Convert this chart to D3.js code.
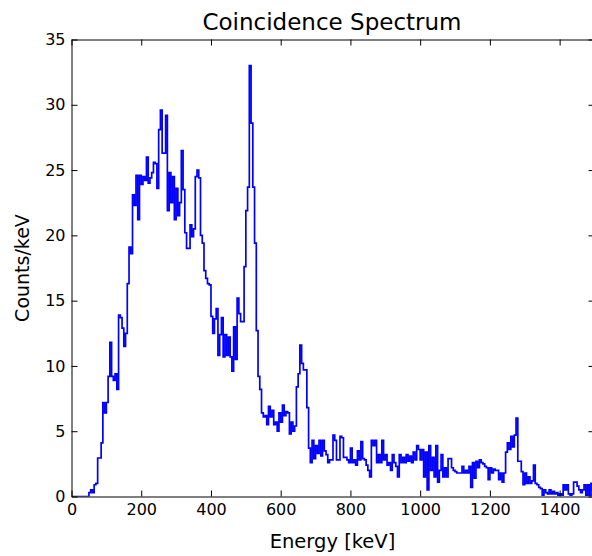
<!DOCTYPE html>
<html><head><meta charset="utf-8">
<script src="https://cdn.jsdelivr.net/npm/d3@7"></script>
<style>
body{margin:0;background:#fff}
svg{display:block}
text{font-family:"DejaVu Sans",sans-serif;fill:#000}
</style>
</head><body>
<svg id="chart" width="592" height="556"></svg>
<script>
// ---- data ----
const binWidth = 5; // keV per bin
const energyMax = 1500;
// Counts/keV for bins starting 0,5,10,... keV
const countsLow = [ // 0–495 keV
  0,0,0,0,0,0,0,0,0,0,
  0.3,0.5,0.3,0.9,1.0,2.95,2.95,4.1,7.2,6.4,
  7.2,9.2,11.8,9.2,8.9,9.4,8.2,13.9,13.7,12.9,
  11.5,12.5,16.3,19.1,18.6,23.1,22.3,24.6,21.2,24.6,
  23.9,24.5,24.2,26.0,24.0,24.4,24.8,25.6,25.5,23.6,
  28.1,29.6,26.3,26.3,29.2,21.9,24.8,22.5,24.5,21.2,
  23.6,21.5,22.5,26.5,23.5,20.2,19.0,19.0,20.8,19.9,
  20.5,24.5,25.0,24.4,20.0,19.4,17.3,16.7,16.3,16.2,
  13.8,12.5,13.6,14.4,10.8,12.4,13.7,10.7,12.4,10.8,
  12.2,10.7,9.6,13.0,10.5,15.2,14.0,13.4,13.4,17.6
];
const countsMid = [ // 500–995 keV
  21.9,23.7,33.0,28.6,23.7,19.4,12.7,9.2,8.2,6.4,
  6.1,6.2,5.5,6.9,6.1,6.6,5.5,5.7,5.0,6.4,
  5.7,7.0,6.2,6.5,6.4,4.8,5.7,5.0,5.4,8.4,
  9.4,11.6,10.2,9.7,9.7,6.8,3.7,2.6,4.3,2.9,
  3.9,3.3,4.3,3.1,4.3,3.5,3.2,2.6,2.8,2.8,
  4.7,4.3,2.8,2.8,4.6,4.5,3.0,3.0,2.8,2.6,
  3.7,2.6,2.8,2.4,3.5,2.8,4.2,2.9,2.8,2.4,
  2.0,1.5,4.3,3.9,4.3,2.6,3.2,2.6,4.3,2.8,
  3.2,2.4,2.6,2.0,3.2,2.6,2.3,1.5,3.2,2.6,
  3.0,2.6,3.2,2.7,3.1,2.6,3.4,2.8,3.9,3.6
];
const countsHigh = [ // 1000–1495 keV
  2.8,3.6,1.5,3.4,0.5,3.9,2.0,3.0,1.5,3.9,
  1.1,2.0,3.2,1.5,2.2,1.5,2.9,2.9,2.2,2.0,
  1.9,1.8,1.8,1.8,2.3,1.8,2.0,1.8,2.3,0.7,
  2.6,1.4,2.7,2.2,2.8,2.6,2.5,2.3,2.2,1.3,
  2.2,1.8,2.1,2.0,2.0,1.3,1.8,1.1,1.8,3.4,
  4.1,3.6,4.6,3.8,4.7,6.0,2.7,2.7,1.9,0.9,
  1.8,1.0,1.5,1.0,1.2,2.4,1.0,0.9,0.7,0.6,
  0.1,0.5,0.3,0.2,0.5,0.2,0.4,0.2,0.3,0.1,
  0.2,0.1,0.9,0.5,0.9,0.2,0.1,0.2,1.1,1.1,
  0.8,0.5,0.3,0.5,0.9,0.1,0.9,0.1,1.0,0.5
];
const xTickValues = [0,200,400,600,800,1000,1200,1400];
const yTickValues = [0,5,10,15,20,25,30,35];
const titleText = "Coincidence Spectrum";
const xLabelText = "Energy [keV]";
const yLabelText = "Counts/keV";

// ---- chart ----
const counts = countsLow.concat(countsMid, countsHigh);
const m = {left:71.5, right:594.5, top:39.5, bottom:496.5};
const svg = d3.select("#chart");
const x = d3.scaleLinear().domain([0, energyMax]).range([m.left, m.right]);
const y = d3.scaleLinear().domain([0, 35]).range([m.bottom, m.top]);

const pts = [[0,0]].concat(counts.map((v,i)=>[i*binWidth, v]));
pts.push([energyMax, counts[counts.length-1]]);
pts.push([energyMax, 0]);

svg.append("defs").append("clipPath").attr("id","clip")
  .append("rect").attr("x",m.left).attr("y",m.top-2).attr("width",m.right-m.left).attr("height",m.bottom-m.top+2);

svg.append("path")
  .datum(pts)
  .attr("clip-path","url(#clip)")
  .attr("fill","none")
  .attr("stroke","#0000ff")
  .attr("stroke-width",1.7)
  .attr("stroke-linejoin","miter")
  .attr("d", d3.line().x(d=>x(d[0])).y(d=>y(d[1])).curve(d3.curveStepAfter));

function styleAxis(g, showText){
  g.select(".domain").attr("stroke","#000").attr("stroke-width",1);
  g.selectAll(".tick line").attr("stroke","#000").attr("stroke-width",1);
  g.selectAll(".tick text").attr("font-size","16px").attr("font-family","DejaVu Sans, sans-serif").attr("fill","#000");
  if(!showText) g.selectAll(".tick text").remove();
}

svg.append("g").attr("transform",`translate(0,${m.bottom})`)
  .call(d3.axisBottom(x).tickValues(xTickValues).tickSizeInner(-6).tickSizeOuter(0).tickPadding(7).tickFormat(d3.format("d")))
  .call(g=>styleAxis(g,true));
svg.append("g").attr("transform",`translate(0,${m.top})`)
  .call(d3.axisTop(x).tickValues(xTickValues).tickSizeInner(-6).tickSizeOuter(0))
  .call(g=>styleAxis(g,false));
svg.append("g").attr("transform",`translate(${m.left},0)`)
  .call(d3.axisLeft(y).tickValues(yTickValues).tickSizeInner(-6).tickSizeOuter(0).tickPadding(6).tickFormat(d3.format("d")))
  .call(g=>styleAxis(g,true));
svg.append("g").attr("transform",`translate(${m.right},0)`)
  .call(d3.axisRight(y).tickValues(yTickValues).tickSizeInner(-6).tickSizeOuter(0))
  .call(g=>styleAxis(g,false));

svg.append("text").attr("x",332).attr("y",30)
  .attr("text-anchor","middle").attr("font-size","23px").text(titleText);
svg.append("text").attr("x",332.5).attr("y",548)
  .attr("text-anchor","middle").attr("font-size","19.5px").text(xLabelText);
svg.append("text").attr("transform",`translate(29,${(m.top+m.bottom)/2}) rotate(-90)`)
  .attr("text-anchor","middle").attr("font-size","19px").text(yLabelText);
</script>
</body></html>
